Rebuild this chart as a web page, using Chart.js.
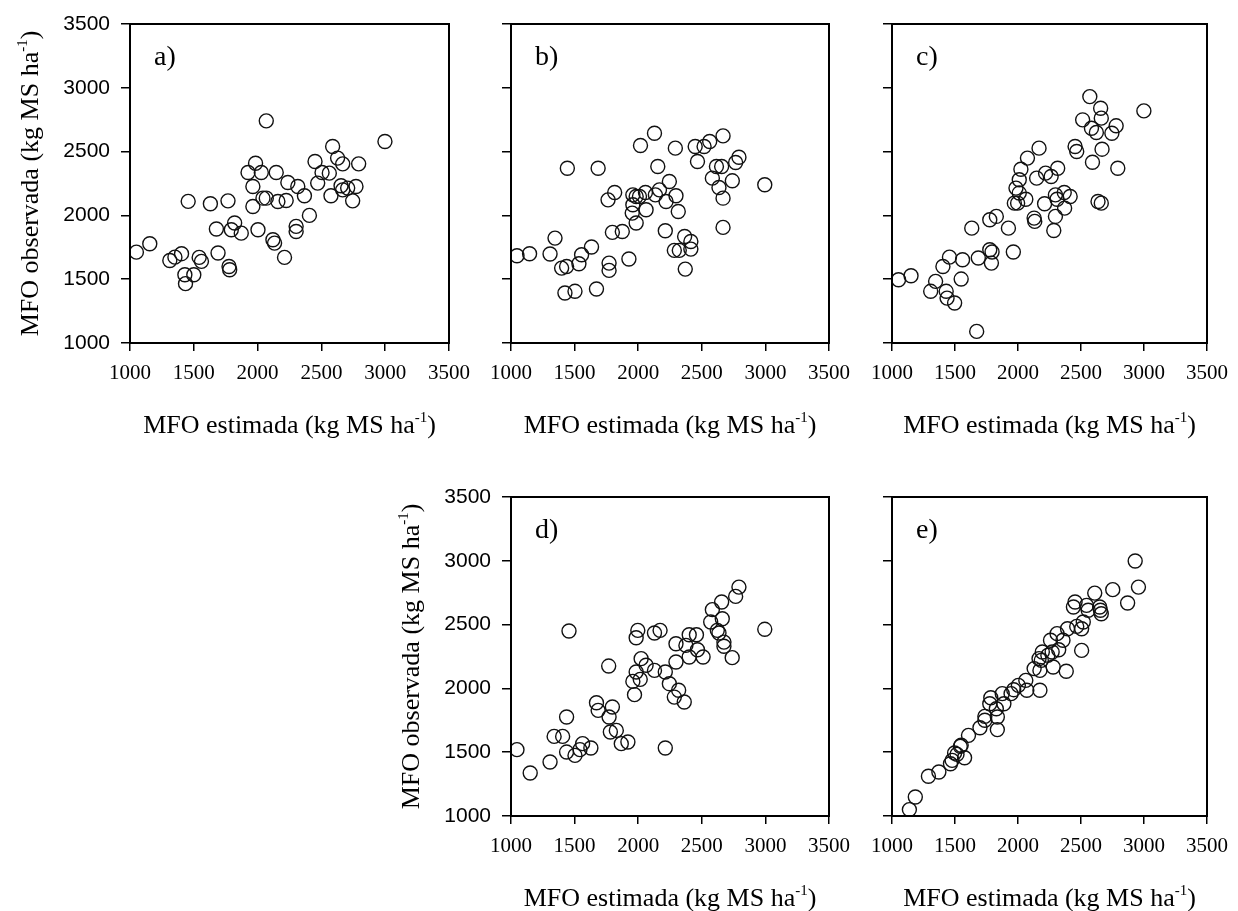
<!DOCTYPE html>
<html><head><meta charset="utf-8">
<script src="https://cdn.jsdelivr.net/npm/chart.js@4.4.1/dist/chart.umd.min.js"></script>
<style>
html,body{margin:0;padding:0;background:#fff;}
#wrap{position:relative;width:1238px;height:911px;overflow:hidden;background:#fff;}
canvas{position:absolute;}
</style></head><body><div id="wrap">
<canvas id="ca" width="480" height="450" style="left:0px;top:0px"></canvas>
<canvas id="cb" width="400" height="450" style="left:460px;top:0px"></canvas>
<canvas id="cc" width="398" height="450" style="left:840px;top:0px"></canvas>
<canvas id="cd" width="480" height="461" style="left:380px;top:450px"></canvas>
<canvas id="ce" width="398" height="461" style="left:840px;top:450px"></canvas>
</div>
<script>
// ---- data ----
const tickValues = [1000, 1500, 2000, 2500, 3000, 3500];
const panelLabels = ['a)', 'b)', 'c)', 'd)', 'e)'];
const xTitleMain = 'MFO estimada (kg MS ha';
const yTitleMain = 'MFO observada (kg MS ha';
const titleSup = '-1';
const titleEnd = ')';

const aEst = [1050,1155,1312,1352,1404,1456,1430,1435,1500,1542,1560,1630,1677,1690,1768,1776,1781,1794,1820,1872,1925,1984,1963,1963,2003,2029,2042,2068,2068,2120,2133,2146,2159,2211,2224,2237,2302,2302,2315,2367,2406,2450,2471,2505,2562,2575,2588,2627,2667,2654,2667,2706,2745,2771,2792,2998];
const aObs = [1712,1778,1647,1673,1700,2110,1535,1465,1535,1671,1640,2091,1893,1705,2114,1600,1574,1887,1940,1861,2336,2409,2227,2070,1887,2336,2135,2135,2741,1809,1783,2336,2109,1671,2117,2258,1914,1874,2227,2154,2000,2422,2253,2336,2331,2154,2540,2449,2404,2232,2200,2214,2114,2227,2404,2579];

const bEst = [1047,1146,1307,1346,1398,1437,1443,1424,1503,1534,1555,1633,1672,1685,1763,1815,1771,1771,1797,1875,1927,1958,1984,1958,1953,1984,2018,2010,2057,2062,2128,2135,2154,2167,2213,2219,2245,2292,2297,2315,2284,2323,2365,2414,2414,2370,2448,2518,2466,2562,2583,2615,2656,2667,2635,2667,2667,2740,2766,2792,2995];
const bObs = [1684,1699,1697,1822,1587,1600,2370,1392,1405,1621,1692,1752,1423,2370,2122,2180,1626,1569,1867,1874,1658,2161,2148,2083,2018,1940,2548,2148,2180,2044,2644,2161,2383,2200,1880,2109,2266,2527,2154,2031,1726,1726,1835,1796,1736,1579,2540,2540,2422,2579,2292,2383,2383,2623,2219,2135,1906,2271,2415,2456,2240];

const cEst = [1052,1151,1307,1346,1404,1430,1437,1456,1497,1549,1560,1633,1672,1685,1776,1776,1794,1789,1828,1924,1963,1971,1997,1984,2010,2010,2023,2062,2075,2128,2133,2148,2167,2219,2211,2263,2315,2284,2297,2297,2310,2367,2370,2414,2453,2466,2513,2570,2583,2591,2622,2656,2661,2635,2661,2667,2745,2779,2792,2999];
const cObs = [1496,1527,1405,1483,1600,1405,1352,1673,1313,1501,1652,1900,1091,1666,1966,1731,1713,1626,1992,1900,1713,2096,2096,2214,2175,2279,2362,2127,2449,1979,1953,2292,2527,2331,2091,2305,2370,1882,1992,2161,2127,2180,2057,2148,2540,2501,2749,2931,2683,2417,2650,2840,2762,2109,2096,2519,2644,2702,2370,2819];

const dEst = [1047,1151,1307,1339,1406,1437,1437,1503,1456,1542,1563,1628,1672,1685,1768,1771,1781,1828,1797,1867,1919,1971,1958,2016,1984,1984,1997,2023,2062,2128,2172,2128,2213,2213,2245,2284,2318,2297,2297,2362,2375,2401,2401,2458,2466,2510,2570,2583,2622,2635,2656,2661,2674,2674,2739,2766,2792,2995];
const dObs = [1520,1337,1423,1624,1624,1776,1501,1475,2450,1520,1567,1533,1888,1828,2175,1776,1658,1671,1854,1567,1580,1951,2055,2071,2128,2397,2455,2233,2181,2434,2455,2141,2128,1533,2037,1932,1985,2350,2207,1893,2337,2421,2246,2421,2303,2246,2520,2617,2455,2434,2677,2546,2363,2330,2241,2721,2794,2463];

const eEst = [1138,1185,1289,1372,1464,1477,1516,1576,1549,1607,1698,1737,1784,1828,1836,1836,1875,1888,1966,2003,2062,2070,2128,2174,2193,2185,2174,2258,2271,2279,2323,2357,2383,2393,2466,2505,2505,2453,2440,2557,2609,2654,2661,2752,2870,2930,2956,2167,2237,2310,2518,2544,2648,1945,1776,1737,1497,1542];
const eObs = [1050,1149,1311,1345,1410,1436,1483,1457,1554,1632,1692,1781,1927,1841,1776,1677,1959,1880,1990,2024,2063,1985,2155,1985,2285,2220,2141,2377,2285,2168,2303,2377,2134,2468,2486,2298,2468,2677,2638,2612,2747,2612,2585,2774,2669,2998,2794,2233,2259,2429,2520,2651,2638,1959,1880,1750,1494,1546];

// ---- drawing ----
const SERIF = '"Liberation Serif", "Times New Roman", serif';
const SANS = '"Liberation Sans", Arial, sans-serif';

function drawSupTitle(ctx, main, sup, end, cx, baseY) {
  ctx.font = '26px ' + SERIF;
  const w1 = ctx.measureText(main).width;
  const w3 = ctx.measureText(end).width;
  ctx.font = '15px ' + SERIF;
  const w2 = ctx.measureText(sup).width;
  let x = cx - (w1 + w2 + w3) / 2;
  ctx.textAlign = 'left';
  ctx.textBaseline = 'alphabetic';
  ctx.font = '26px ' + SERIF;
  ctx.fillText(main, x, baseY); x += w1;
  ctx.font = '15px ' + SERIF;
  ctx.fillText(sup, x, baseY - 11); x += w2;
  ctx.font = '26px ' + SERIF;
  ctx.fillText(end, x, baseY);
}

const framePlugin = {
  id: 'frame',
  afterDraw(chart, args, opts) {
    const ctx = chart.ctx, a = chart.chartArea;
    ctx.save();
    ctx.strokeStyle = '#000';
    ctx.lineWidth = 2;
    ctx.strokeRect(a.left, a.top, a.right - a.left, a.bottom - a.top);
    ctx.fillStyle = '#000';
    ctx.font = '28px ' + SERIF;
    ctx.textAlign = 'left';
    ctx.textBaseline = 'alphabetic';
    ctx.fillText(opts.label, a.left + 24, a.top + 41);
    drawSupTitle(ctx, xTitleMain, titleSup, titleEnd, (a.left + a.right) / 2, a.bottom + 90);
    if (opts.yTitle) {
      ctx.save();
      ctx.translate(a.left - 92, (a.top + a.bottom) / 2);
      ctx.rotate(-Math.PI / 2);
      drawSupTitle(ctx, yTitleMain, titleSup, titleEnd, 0, 0);
      ctx.restore();
    }
    ctx.restore();
  }
};

function makePanel(id, est, obs, cfg) {
  const pts = est.map((x, i) => ({x: x, y: obs[i]}));
  return new Chart(document.getElementById(id), {
    type: 'scatter',
    data: {datasets: [{
      data: pts,
      pointRadius: 7, pointHoverRadius: 7,
      pointBorderWidth: 1.4, pointBorderColor: '#111',
      pointBackgroundColor: 'rgba(255,255,255,0)'
    }]},
    options: {
      responsive: false, animation: false, devicePixelRatio: 1,
      events: [],
      layout: {padding: {left: 0, top: cfg.padTop, right: cfg.padRight, bottom: 0}},
      plugins: {
        legend: {display: false}, tooltip: {enabled: false}, title: {display: false},
        frame: {label: cfg.label, yTitle: cfg.yLabels}
      },
      scales: {
        x: {
          type: 'linear', min: 1000, max: 3500,
          afterBuildTicks: s => { s.ticks = tickValues.map(v => ({value: v})); },
          afterFit: s => { s.height = cfg.xH; },
          ticks: {font: {family: SERIF, size: 21}, color: '#000', padding: 10, maxRotation: 0, autoSkip: false,
                  callback: v => String(v)},
          grid: {drawOnChartArea: false, drawTicks: true, tickLength: 8, color: '#000', lineWidth: 1.5},
          border: {display: false}
        },
        y: {
          type: 'linear', min: 1000, max: 3500,
          afterBuildTicks: s => { s.ticks = tickValues.map(v => ({value: v})); },
          afterFit: s => { s.width = cfg.yW; },
          ticks: {display: cfg.yLabels, font: {family: SANS, size: 21}, color: '#000', padding: 11, autoSkip: false,
                  callback: v => String(v)},
          grid: {drawOnChartArea: false, drawTicks: true, tickLength: 9, color: '#000', lineWidth: 1.5},
          border: {display: false}
        }
      }
    },
    plugins: [framePlugin]
  });
}

makePanel('ca', aEst, aObs, {label: panelLabels[0], yLabels: true,  yW: 130, padTop: 24, padRight: 30, xH: 107});
makePanel('cb', bEst, bObs, {label: panelLabels[1], yLabels: false, yW: 51,  padTop: 24, padRight: 29, xH: 107});
makePanel('cc', cEst, cObs, {label: panelLabels[2], yLabels: false, yW: 52,  padTop: 24, padRight: 26, xH: 107});
makePanel('cd', dEst, dObs, {label: panelLabels[3], yLabels: true,  yW: 131, padTop: 47, padRight: 29, xH: 95});
makePanel('ce', eEst, eObs, {label: panelLabels[4], yLabels: false, yW: 52,  padTop: 47, padRight: 26, xH: 95});
</script>
</body></html>
